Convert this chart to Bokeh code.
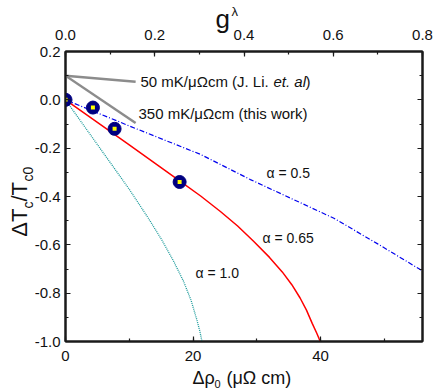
from math import pi
from bokeh.plotting import figure
from bokeh.models import Range1d, LinearAxis, SingleIntervalTicker, NumeralTickFormatter, Label, CustomJSTickFormatter
from bokeh.core.properties import value
from bokeh.embed import file_html
from bokeh.resources import INLINE

# ---------------- data ----------------
rho_points = [0.0, 4.3, 7.7, 17.9]
dtc_points = [0.0, -0.032, -0.12, -0.34]

rho_a05 = [0, 10, 21.2, 29.0, 42.1, 48.9, 56.0]
dtc_a05 = [0, -0.108, -0.226, -0.330, -0.490, -0.595, -0.708]

rho_a065 = [0, 10, 17.9, 21.2, 24.3, 27.0, 29.5, 32.0, 34.0, 35.5, 36.8, 37.8, 38.7, 39.4, 39.8, 40.0]
dtc_a065 = [0, -0.186, -0.335, -0.398, -0.462, -0.522, -0.585, -0.652, -0.712, -0.765, -0.82, -0.87, -0.925, -0.965, -0.99, -1.0]

rho_a10 = [0, 5, 10, 13, 15, 17, 18.5, 19.7, 20.6, 21.1, 21.4]
dtc_a10 = [0, -0.185, -0.37, -0.49, -0.575, -0.67, -0.75, -0.83, -0.91, -0.96, -1.0]

slope_x = [0, 11.0]
slope_50 = [0.1, 0.075]
slope_350 = [0.1, -0.096]

x_ticks_step = 20
y_ticks_step = 0.2
g_ticks_step = 0.2

FONT = "Liberation Sans"
AX = "#1a1a1a"

p = figure(width=436, height=392, output_backend="svg", toolbar_location=None,
           x_range=Range1d(0, 56), y_range=Range1d(-1.0, 0.2),
           min_border_left=65, min_border_right=14, min_border_top=51, min_border_bottom=51)
p.extra_x_ranges = {"g": Range1d(0, 0.8)}
p.grid.visible = False
p.outline_line_color = AX
p.outline_line_width = 2
p.background_fill_color = "white"
p.border_fill_color = "white"

def style_axis(ax):
    ax.axis_line_color = AX
    ax.axis_line_width = 2
    ax.major_tick_in = 5
    ax.major_tick_out = 0
    ax.minor_tick_in = 3
    ax.minor_tick_out = 0
    ax.major_tick_line_color = AX
    ax.minor_tick_line_color = AX
    ax.major_tick_line_width = 1.2
    ax.minor_tick_line_width = 1.2
    ax.major_label_text_font = FONT
    ax.major_label_text_color = "#111"
    ax.major_label_text_font_size = "15px"

xa = p.xaxis[0]
xa.ticker = SingleIntervalTicker(interval=x_ticks_step, num_minor_ticks=2)
style_axis(xa)
xa.major_label_standoff = 9

ya = p.yaxis[0]
ya.ticker = SingleIntervalTicker(interval=y_ticks_step, num_minor_ticks=2)
ya.formatter = NumeralTickFormatter(format="0.0")
style_axis(ya)
ya.major_label_standoff = 5

top = LinearAxis(x_range_name="g", ticker=SingleIntervalTicker(interval=g_ticks_step, num_minor_ticks=2),
                 formatter=NumeralTickFormatter(format="0.0"))
style_axis(top)
top.major_label_standoff = 12
p.add_layout(top, "above")

right = LinearAxis(ticker=SingleIntervalTicker(interval=y_ticks_step, num_minor_ticks=2),
                   formatter=CustomJSTickFormatter(code="return ''"))
style_axis(right)
right.major_label_standoff = 0
p.add_layout(right, "right")

# slope reference lines
p.line(slope_x, slope_50, line_color="#8c8c8c", line_width=2.5)
p.line(slope_x, slope_350, line_color="#8c8c8c", line_width=2.5)

# model curves
p.line(rho_a10, dtc_a10, line_color="#1a9a9a", line_width=1.3, line_dash="1 1")
p.line(rho_a05, dtc_a05, line_color="#0000ee", line_width=1.2, line_dash="5 2 1 2")
p.line(rho_a065, dtc_a065, line_color="#ff0000", line_width=1.5)

# data points
p.scatter(rho_points, dtc_points, marker="circle", size=13, fill_color="#000080", line_color="#000080")
p.scatter(rho_points, dtc_points, marker="square", size=4, fill_color="#ffff00", line_color=None)

def lab(text, px, py, size, style="normal"):
    p.add_layout(Label(x=px, y=py, x_units="canvas", y_units="canvas", text=text,
                       text_font=FONT, text_font_size=f"{size}px", text_font_style=style,
                       text_align="left", text_baseline="middle", text_color="#111"))

def px2x(px):
    return (px - 65) / 6.375

def py2y(py):
    return (99 - py) / 240

def gtext(text, px, py, size, angle=0.0):
    # text glyphs drawn at overlay level so they may sit outside the frame
    p.text(x=[px2x(px)], y=[py2y(py)], text=[text], angle=angle, level="overlay",
           text_font=value(FONT), text_font_size=value(f"{size}px"),
           text_align="left", text_baseline="middle", text_color="#111")

# annotations
lab("50 mK/\u03bc\u03a9cm (J. Li. ", 140, 81, 15)
lab("et. al", 140 + 133, 81, 15, style="italic")
lab(")", 140 + 165, 81, 15)
lab("350 mK/\u03bc\u03a9cm (this work)", 138, 113, 15)
lab("\u03b1 = 0.5", 266, 172, 14)
lab("\u03b1 = 0.65", 262, 237, 14)
lab("\u03b1 = 1.0", 195, 272, 14)

# top axis title g^lambda
gtext("g", 215, 19, 26)
gtext("\u03bb", 231, 11.5, 13)

# bottom axis title
gtext("\u0394\u03c1", 192, 375.5, 18)
gtext("0", 214, 381, 11)
gtext("(\u03bc\u03a9 cm)", 226, 375.5, 18)

# left axis title (rotated)
y0 = 235
gtext("\u0394T", 18.5, y0, 22, angle=pi / 2)
gtext("c", 27, y0 - 28, 14, angle=pi / 2)
gtext("/T", 18.5, y0 - 35, 22, angle=pi / 2)
gtext("c0", 27, y0 - 55, 14, angle=pi / 2)

open("out.html", "w").write(file_html(p, INLINE))
